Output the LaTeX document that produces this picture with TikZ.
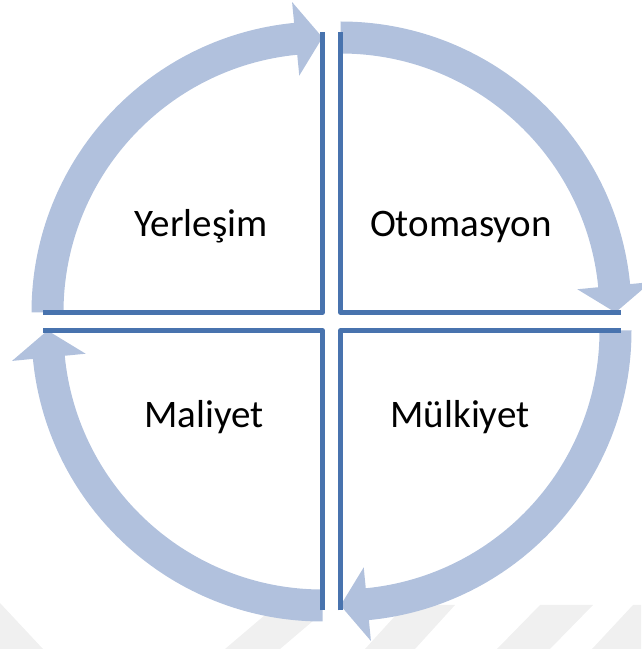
\documentclass[tikz,border=0pt]{standalone}
\usepackage{fontspec}
\setmainfont{Carlito}
\usetikzlibrary{calc}
\definecolor{bandblue}{RGB}{177,193,221}
\definecolor{edgeblue}{RGB}{72,115,174}
\definecolor{wmgray}{RGB}{240,240,240}
\begin{document}
\begin{tikzpicture}[x=1pt,y=1pt,
  band/.style={fill=bandblue},
  edge/.style={draw=edgeblue,line width=4.5pt,line join=round},
  lbl/.style={font=\fontsize{39}{47}\selectfont,anchor=base,inner sep=0pt},
  wm/.style={fill=wmgray}]
\useasboundingbox (0,0) rectangle (641,649);
% faint watermark fragments at the bottom
\fill[wm] (0,46) -- (43,0) -- (0,0) -- cycle;
\fill[wm] (265,34) -- (320,34) -- (280,0) -- (225,0) -- cycle;
\fill[wm] (405,44) -- (455,44) -- (415,0) -- (365,0) -- cycle;
\fill[wm] (540,44) -- (593,44) -- (550,0) -- (497,0) -- cycle;
\fill[wm] (633,44) -- (641,44) -- (641,0) -- (592,0) -- cycle;
% circular arrows
\foreach \cx/\cy/\a in {322.5/336.5/180, 340.5/336.5/90, 340.5/318.5/0, 322.5/318.5/-90}{
  \pgfmathsetmacro\b{\a-84.4}
  \pgfmathsetmacro\t{\a-90}
  \fill[band] (\cx,\cy) ++(\a:291) arc[start angle=\a, end angle=\b, radius=291]
    -- ($(\cx,\cy)+(\b:312)$) -- ($(\cx,\cy)+(\t:275)$) -- ($(\cx,\cy)+(\b:238)$)
    -- ($(\cx,\cy)+(\b:259)$) arc[start angle=\b, end angle=\a, radius=259] -- cycle;
}
% quadrant edges
\coordinate (tl) at (322.5,336.5);
\coordinate (tr) at (340.5,336.5);
\coordinate (bl) at (322.5,318.5);
\coordinate (br) at (340.5,318.5);
\draw[edge] ($(tl)+(0,280)$) -- (tl) -- ($(tl)+(-280,0)$);
\draw[edge] ($(tr)+(0,280)$) -- (tr) -- ($(tr)+(280,0)$);
\draw[edge] ($(bl)+(0,-280)$) -- (bl) -- ($(bl)+(-280,0)$);
\draw[edge] ($(br)+(0,-280)$) -- (br) -- ($(br)+(280,0)$);
% labels
\node[lbl] (yer) at (201,412) {Yerleşim};
\node[lbl] (oto) at (461,412) {Otomasyon};
\node[lbl] (mal) at (204,221) {Maliyet};
\node[lbl] (mul) at (460,221) {Mülkiyet};
\end{tikzpicture}
\end{document}
